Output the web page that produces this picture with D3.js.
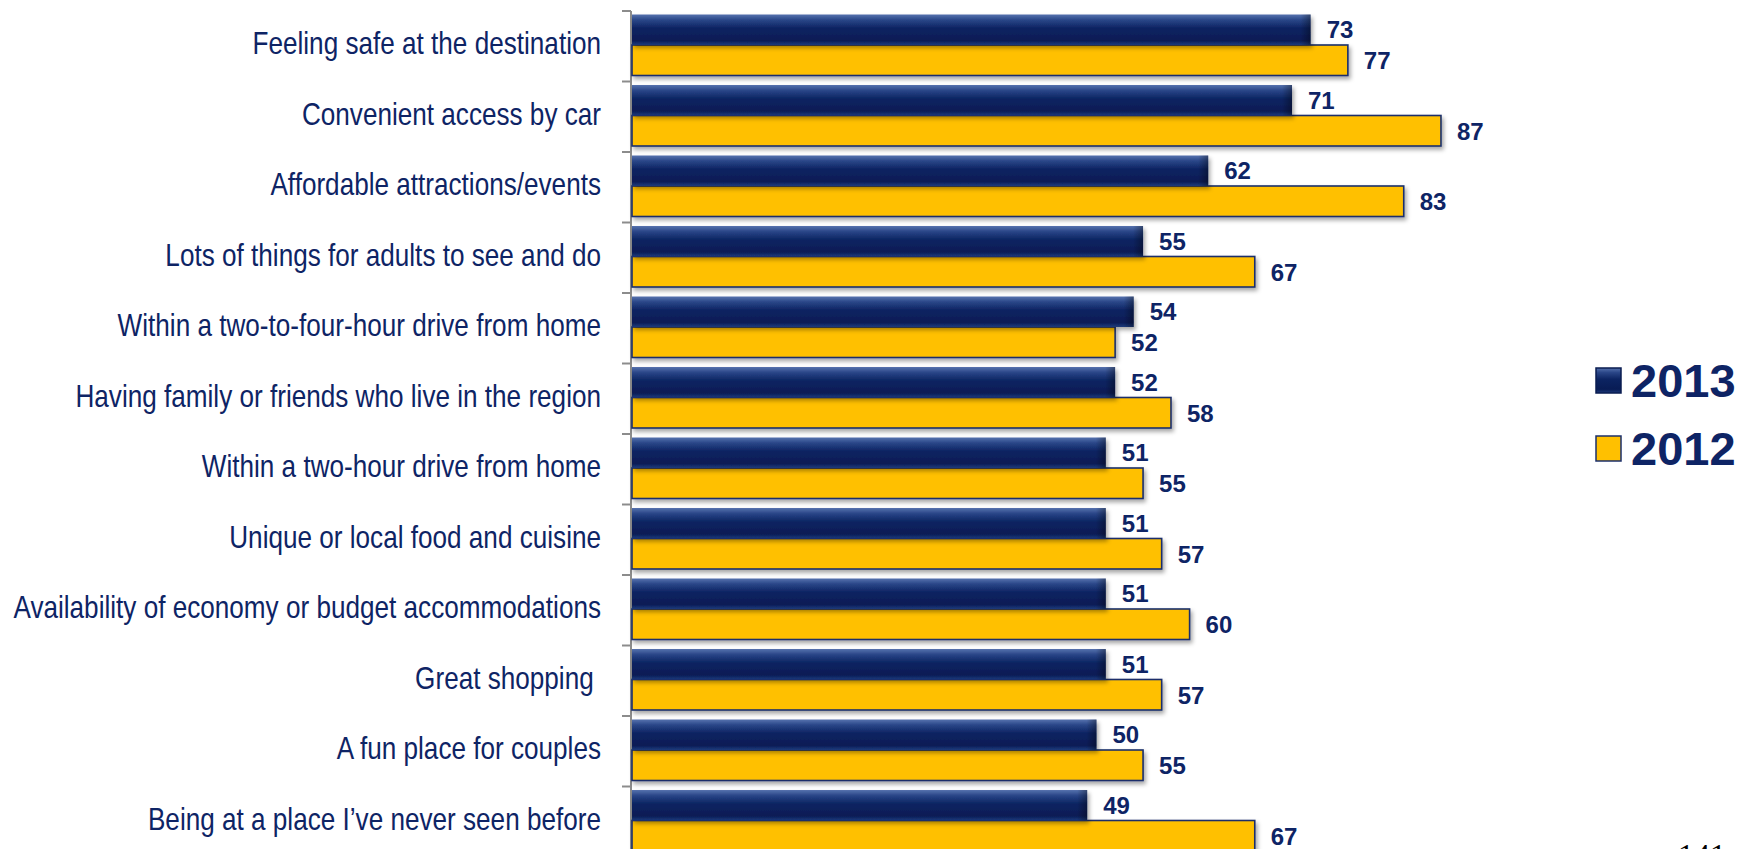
<!DOCTYPE html>
<html>
<head>
<meta charset="utf-8">
<script src="https://cdn.jsdelivr.net/npm/d3@7"></script>
<style>
  html, body { margin: 0; padding: 0; background: #ffffff; }
  svg { display: block; }
</style>
</head>
<body>
<svg id="chart" width="1754" height="849"></svg>
<script>
const categories = [
  "Feeling safe at the destination",
  "Convenient access by car",
  "Affordable attractions/events",
  "Lots of things for adults to see and do",
  "Within a two-to-four-hour drive from home",
  "Having family or friends who live in the region",
  "Within a two-hour drive from home",
  "Unique or local food and cuisine",
  "Availability of economy or budget accommodations",
  "Great shopping ",
  "A fun place for couples",
  "Being at a place I\u2019ve never seen before"
];
const values2013 = [73, 71, 62, 55, 54, 52, 51, 51, 51, 51, 50, 49];
const values2012 = [77, 87, 83, 67, 52, 58, 55, 57, 60, 57, 55, 67];
const seriesNames = ["2013", "2012"];
const pageNumber = "141";

const textNavy = "#0E2465";
const gold = "#FFC000";

const svg = d3.select("#chart");
const defs = svg.append("defs");

const g1 = defs.append("linearGradient").attr("id", "navyGrad")
  .attr("x1", 0).attr("y1", 0).attr("x2", 0).attr("y2", 1);
g1.append("stop").attr("offset", "0%").attr("stop-color", "#5672AE");
g1.append("stop").attr("offset", "18%").attr("stop-color", "#2A4688");
g1.append("stop").attr("offset", "45%").attr("stop-color", "#0C2462");
g1.append("stop").attr("offset", "85%").attr("stop-color", "#081C55");
g1.append("stop").attr("offset", "100%").attr("stop-color", "#1E3A7C");

const g2 = defs.append("linearGradient").attr("id", "navyEnd")
  .attr("x1", 0).attr("y1", 0).attr("x2", 1).attr("y2", 0);
g2.append("stop").attr("offset", "0%").attr("stop-color", "#000000").attr("stop-opacity", 0);
g2.append("stop").attr("offset", "100%").attr("stop-color", "#000000").attr("stop-opacity", 0.35);

const shadow = defs.append("filter").attr("id", "shadow")
  .attr("x", "-5%").attr("y", "-30%").attr("width", "120%").attr("height", "180%");
shadow.append("feDropShadow").attr("dx", 2).attr("dy", 3).attr("stdDeviation", 2)
  .attr("flood-color", "#000").attr("flood-opacity", 0.35);

const x = d3.scaleLinear().domain([0, 100]).range([631, 1562]);
const y = d3.scaleBand().domain(categories).range([11, 857]).paddingInner(0).paddingOuter(0);

const bw = y.bandwidth();
const barOffset = 3.5;
const barH = 30.5;

// axis line with ticks at band boundaries
const axisG = svg.append("g");
axisG.append("line")
  .attr("x1", x(0)).attr("x2", x(0))
  .attr("y1", y.range()[0]).attr("y2", y.range()[1])
  .attr("stroke", "#8C8C8C").attr("stroke-width", 2);
const boundaries = categories.map(c => y(c)).concat([y.range()[1]]);
axisG.selectAll("line.tick").data(boundaries).enter().append("line")
  .attr("class", "tick")
  .attr("x1", x(0) - 9).attr("x2", x(0))
  .attr("y1", d => d).attr("y2", d => d)
  .attr("stroke", "#8C8C8C").attr("stroke-width", 2);

// category labels (horizontally condensed, like Arial Narrow)
svg.append("g").selectAll("text").data(categories).enter().append("text")
  .attr("transform", d => `translate(601,${y(d) + bw / 2 + 8}) scale(0.843,1)`)
  .attr("text-anchor", "end")
  .style("white-space", "pre")
  .attr("font-family", "Liberation Sans, Arial, sans-serif")
  .attr("font-size", 31)
  .attr("fill", textNavy)
  .text(d => d);

const rows = categories.map((c, i) => ({ c, v13: values2013[i], v12: values2012[i] }));

const barsG = svg.append("g");
barsG.selectAll("rect.b12").data(rows).enter().append("rect")
  .attr("class", "b12")
  .attr("x", x(0) + 1)
  .attr("y", d => y(d.c) + barOffset + barH)
  .attr("width", d => x(d.v12) - x(0) - 1)
  .attr("height", barH)
  .attr("fill", gold)
  .attr("stroke", "#1B2F6B").attr("stroke-width", 1.6)
  .attr("filter", "url(#shadow)");

barsG.selectAll("rect.b13").data(rows).enter().append("rect")
  .attr("class", "b13")
  .attr("x", x(0) + 1)
  .attr("y", d => y(d.c) + barOffset)
  .attr("width", d => x(d.v13) - x(0) - 1)
  .attr("height", barH)
  .attr("fill", "url(#navyGrad)")
  .attr("filter", "url(#shadow)");

barsG.selectAll("rect.b13end").data(rows).enter().append("rect")
  .attr("class", "b13end")
  .attr("x", d => x(d.v13) - 10)
  .attr("y", d => y(d.c) + barOffset)
  .attr("width", 10)
  .attr("height", barH)
  .attr("fill", "url(#navyEnd)");

// value labels
const valG = svg.append("g")
  .attr("font-family", "Liberation Sans, Arial, sans-serif")
  .attr("font-weight", "bold")
  .attr("font-size", 24)
  .attr("fill", textNavy);
valG.selectAll("text.v13").data(rows).enter().append("text")
  .attr("x", d => x(d.v13) + 16)
  .attr("y", d => y(d.c) + barOffset + barH / 2 + 8.6)
  .text(d => d.v13);
valG.selectAll("text.v12").data(rows).enter().append("text")
  .attr("x", d => x(d.v12) + 16)
  .attr("y", d => y(d.c) + barOffset + barH * 1.5 + 8.8)
  .text(d => d.v12);

// legend
const legend = svg.append("g");
const legY = [380, 448];
seriesNames.forEach((name, i) => {
  const ly = legY[i];
  legend.append("rect")
    .attr("x", 1596).attr("y", ly - 12).attr("width", 25).attr("height", 25)
    .attr("fill", i === 0 ? "url(#navyGrad)" : gold)
    .attr("stroke", i === 0 ? "#0A1C50" : "#1B2F6B").attr("stroke-width", 1.5);
  legend.append("text")
    .attr("x", 1631).attr("y", ly)
    .attr("dy", "0.36em")
    .attr("font-family", "Liberation Sans, Arial, sans-serif")
    .attr("font-weight", "bold")
    .attr("font-size", 47)
    .attr("fill", textNavy)
    .text(name);
});

// page number (partially cut off, as in the source slide)
svg.append("text")
  .attr("x", 1678).attr("y", 866)
  .attr("font-family", "Liberation Serif, Times New Roman, serif")
  .attr("font-size", 32)
  .attr("fill", "#000")
  .text(pageNumber);
</script>
</body>
</html>
